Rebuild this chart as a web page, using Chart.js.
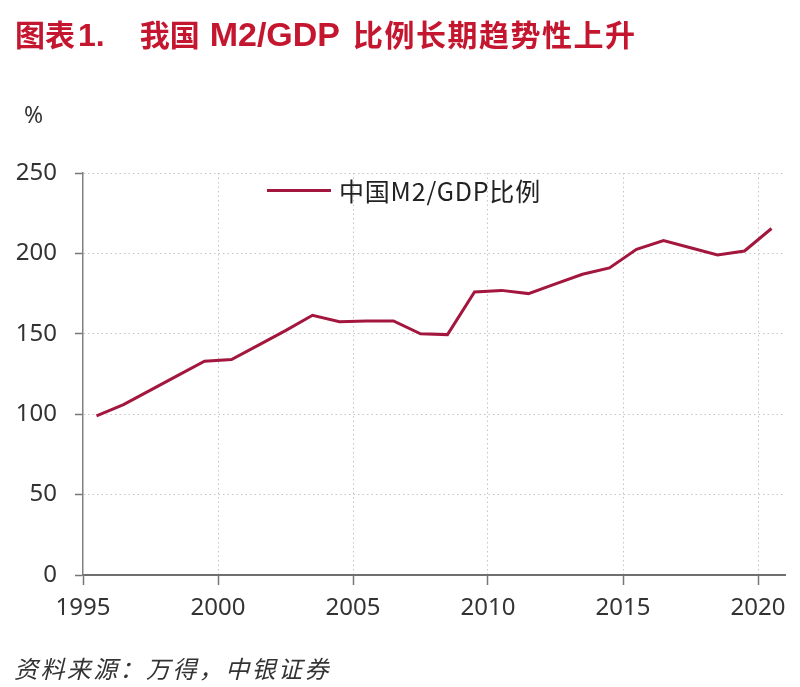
<!DOCTYPE html>
<html>
<head>
<meta charset="utf-8">
<script src="https://cdn.jsdelivr.net/npm/chart.js@4/dist/chart.umd.min.js"></script>
<style>
html,body{margin:0;padding:0;background:#fff;width:800px;height:687px;overflow:hidden;}
#wrap{position:relative;width:800px;height:687px;}
canvas{position:absolute;left:0;top:0;}
#title{position:absolute;left:15px;top:14px;font-family:"Noto Sans CJK SC",sans-serif;font-weight:700;font-size:30px;color:#C4172F;white-space:nowrap;line-height:1.2;}
#title span{display:inline-block;}
#title .lat{font-family:"Liberation Sans Narrow","Liberation Sans",sans-serif;font-weight:700;}
#title .p1{margin-left:3px;font-size:32px;}
#title .p2{margin-left:35px;}
#title .p3{margin-left:10px;font-size:34px;}
#title .p4{margin-left:13px;letter-spacing:1.5px;}
#unit{position:absolute;left:24px;top:98px;font-family:"Noto Sans","Noto Sans CJK SC",sans-serif;font-size:23px;color:#333;}
#legend{position:absolute;left:267px;top:174px;display:flex;align-items:center;font-family:"Noto Sans CJK SC",sans-serif;font-size:25px;color:#222;white-space:nowrap;line-height:32px;letter-spacing:0.8px;}
#legend .ln{display:inline-block;width:64px;height:3px;background:#A3173F;margin-right:8px;}
#source{position:absolute;left:14px;top:650px;font-family:"Noto Sans CJK SC",serif;font-style:italic;font-size:24px;color:#333;letter-spacing:2.4px;white-space:nowrap;}
</style>
</head>
<body>
<div id="wrap">
<canvas id="c" width="800" height="687"></canvas>
<div id="title"></div>
<div id="unit"></div>
<div id="legend"></div>
<div id="source"></div>
</div>
<script>
// ---- data ----
const years = [1995,1996,1997,1998,1999,2000,2001,2002,2003,2004,2005,2006,2007,2008,2009,2010,2011,2012,2013,2014,2015,2016,2017,2018,2019,2020];
const m2gdp = [99,106,115,124,133,134,143,152,161.5,157.5,158,158,150,149.5,176,177,175,181,187,191,202.5,208,203.5,199,201.5,215.5];
const xTickLabels = [1995,2000,2005,2010,2015,2020];
const yTickLabels = [0,50,100,150,200,250];
const seriesName = "中国M2/GDP比例";
const unitLabel = "%";
const titleParts = ["图表", "1.", "我国", "M2/GDP", "比例长期趋势性上升"];
const sourceText = "资料来源：万得，中银证券";

// ---- text ----
const t = document.getElementById('title');
titleParts.forEach((s, i) => {
  const sp = document.createElement('span');
  sp.className = 'p' + i + ((i === 1 || i === 3) ? ' lat' : '');
  sp.textContent = s;
  t.appendChild(sp);
});
document.getElementById('unit').textContent = unitLabel;
document.getElementById('source').textContent = sourceText;
const lg = document.getElementById('legend');
const ln = document.createElement('span'); ln.className = 'ln'; lg.appendChild(ln);
const lt = document.createElement('span'); lt.textContent = seriesName; lg.appendChild(lt);

const lineColor = '#A3173F';
const tickFont = {family: '"Noto Sans","Noto Sans CJK SC",sans-serif', size: 24};

new Chart(document.getElementById('c').getContext('2d'), {
  type: 'line',
  data: {
    datasets: [{
      label: seriesName,
      data: years.map((yr, i) => ({x: yr + 0.5, y: m2gdp[i]})),
      borderColor: lineColor,
      backgroundColor: lineColor,
      borderWidth: 3,
      pointRadius: 0,
      tension: 0,
      fill: false
    }]
  },
  options: {
    responsive: false,
    animation: false,
    devicePixelRatio: 1,
    layout: {padding: {left: 0, right: 15, top: 173, bottom: 0}},
    plugins: {legend: {display: false}, tooltip: {enabled: false}},
    scales: {
      x: {
        type: 'linear', min: 1995, max: 2021,
        afterBuildTicks: s => { s.ticks = xTickLabels.map(v => ({value: v})); },
        afterFit: s => { s.height = 112; },
        ticks: {font: tickFont, color: '#333', padding: 9, maxRotation: 0, autoSkip: false, callback: v => String(v)},
        grid: {color: c => (c.tick && c.tick.value === 1995) ? 'rgba(0,0,0,0)' : '#c4c4c4', lineWidth: 1, tickLength: 10, tickColor: '#777', tickWidth: 1.5},
        border: {color: '#6f6f6f', width: 2, dash: [1.5, 3]}
      },
      y: {
        min: 0, max: 250,
        afterBuildTicks: s => { s.ticks = yTickLabels.map(v => ({value: v})); },
        afterFit: s => { s.width = 83; },
        ticks: {font: tickFont, color: '#333', padding: 18, callback: v => String(v)},
        grid: {color: c => (c.tick && c.tick.value === 0) ? 'rgba(0,0,0,0)' : '#c4c4c4', lineWidth: 1, tickLength: 8, tickColor: '#777', tickWidth: 1.5},
        border: {color: '#808080', width: 1.5, dash: [1.5, 3]}
      }
    }
  }
});
</script>
</body>
</html>
